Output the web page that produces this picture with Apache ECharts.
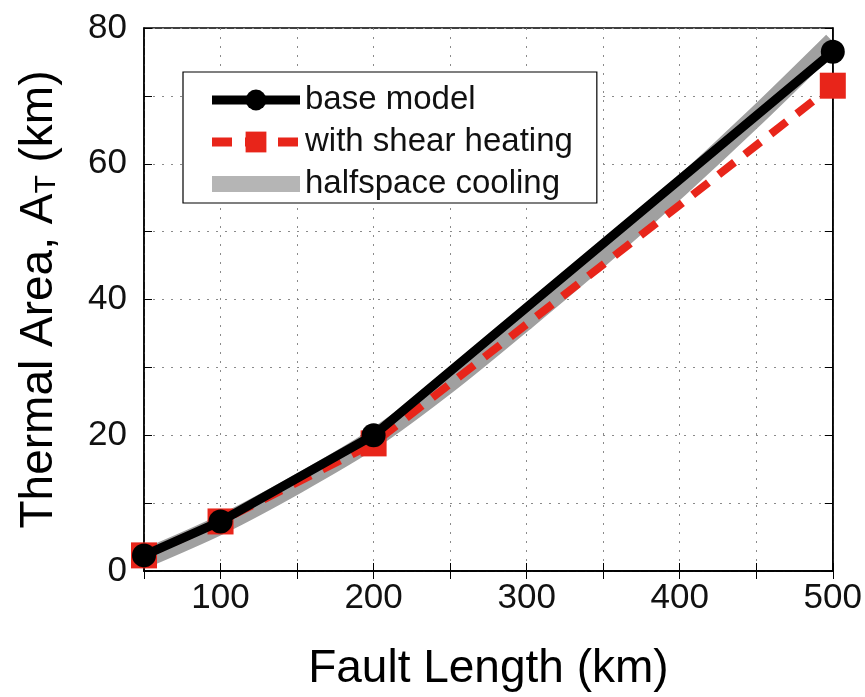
<!DOCTYPE html>
<html>
<head>
<meta charset="utf-8">
<script src="https://cdn.jsdelivr.net/npm/echarts@6/dist/echarts.min.js"></script>
<style>html,body{margin:0;padding:0;background:#fff}#c{width:865px;height:697px}</style>
</head>
<body>
<div id="c"></div>
<script>
var baseLength = [50, 100, 200, 500];
var baseArea = [2.3, 7.3, 20.0, 76.5];
var shearLength = [50, 100, 200, 500];
var shearArea = [2.3, 7.3, 18.8, 71.5];
var halfLength = [50, 100, 150, 200, 250, 300, 350, 400, 450, 500];
var halfArea = [1.8, 6.8, 12.8, 19.5, 27.8, 37.0, 46.5, 56.5, 67.0, 78.0];
var xLabelTicks = [100, 200, 300, 400, 500];
var yLabelTicks = [0, 20, 40, 60, 80];

function pairs(xs, ys) { return xs.map(function (x, i) { return [x, ys[i]]; }); }

var font = 'Liberation Sans, Arial, Helvetica, sans-serif';
var chart = echarts.init(document.getElementById('c'));
var gridLine = { show: true, lineStyle: { color: '#8a8a8a', width: 1, type: [2, 7] } };
chart.setOption({
  animation: false,
  backgroundColor: '#fff',
  grid: { left: 144, right: 30, top: 28, bottom: 124, show: true, borderColor: '#000', borderWidth: 1.5, backgroundColor: 'transparent' },
  legend: {
    orient: 'vertical', left: 183, top: 72,
    backgroundColor: '#fff', borderColor: '#000', borderWidth: 1.2,
    padding: [11, 24, 2, 21], itemWidth: 88, itemHeight: 26, itemGap: 8,
    textStyle: { fontFamily: font, fontSize: 33, color: '#111', lineHeight: 34 },
    data: [
      { name: 'base model', lineStyle: { width: 9 } },
      { name: 'with shear heating', lineStyle: { width: 9 } },
      { name: 'halfspace cooling', lineStyle: { width: 16, color: '#b5b5b5' }, itemStyle: { opacity: 0 } }
    ]
  },
  xAxis: [{
    type: 'value', min: 50, max: 500, interval: 50,
    name: 'Fault Length (km)', nameLocation: 'middle', nameGap: 75,
    nameTextStyle: { fontFamily: font, fontSize: 46, color: '#000' },
    axisLine: { show: true, onZero: false, lineStyle: { color: '#000', width: 1.5 } },
    axisTick: { show: true, inside: true, length: 8, lineStyle: { color: '#000' } },
    axisLabel: { fontFamily: font, fontSize: 35, color: '#111', margin: 10,
      formatter: function (v) { return xLabelTicks.indexOf(v) >= 0 ? String(v) : ''; } },
    splitLine: gridLine
  }, {
    type: 'value', min: 50, max: 500, interval: 50, position: 'top',
    axisLine: { show: true, lineStyle: { color: '#000', width: 1.5 } },
    axisTick: { show: true, inside: true, length: 8, lineStyle: { color: '#000' } },
    axisLabel: { show: false }, splitLine: { show: false }
  }],
  yAxis: [{
    type: 'value', min: 0, max: 80, interval: 10,
    name: 'Thermal Area, A{sub|T} (km)', nameLocation: 'middle', nameGap: 82, nameRotate: 90,
    nameTextStyle: { fontFamily: font, fontSize: 46, color: '#000',
      rich: { sub: { fontFamily: font, fontSize: 30, color: '#000', verticalAlign: 'bottom', padding: [16, 0, 0, 0] } } },
    axisLine: { show: true, lineStyle: { color: '#000', width: 1.5 } },
    axisTick: { show: true, inside: true, length: 8, lineStyle: { color: '#000' } },
    axisLabel: { fontFamily: font, fontSize: 35, color: '#111', margin: 17,
      formatter: function (v) { return yLabelTicks.indexOf(v) >= 0 ? String(v) : ''; } },
    splitLine: gridLine
  }, {
    type: 'value', min: 0, max: 80, interval: 10, position: 'right',
    axisLine: { show: true, lineStyle: { color: '#000', width: 1.5 } },
    axisTick: { show: true, inside: true, length: 8, lineStyle: { color: '#000' } },
    axisLabel: { show: false }, splitLine: { show: false }
  }],
  series: [{
    name: 'halfspace cooling', type: 'line', smooth: 0.3, symbol: 'none', z: 2,
    data: pairs(halfLength, halfArea),
    lineStyle: { color: '#a0a0a0', width: 19 }, itemStyle: { color: '#b4b4b4' }
  }, {
    name: 'with shear heating', type: 'line', symbol: 'rect', symbolSize: 26, z: 3,
    data: pairs(shearLength, shearArea),
    lineStyle: { color: '#e8251a', width: 8, type: [20, 13] }, itemStyle: { color: '#e8251a' }
  }, {
    name: 'base model', type: 'line', symbol: 'circle', symbolSize: 24, z: 4,
    data: pairs(baseLength, baseArea),
    lineStyle: { color: '#000', width: 9 }, itemStyle: { color: '#000' }
  }]
});
</script>
</body>
</html>
